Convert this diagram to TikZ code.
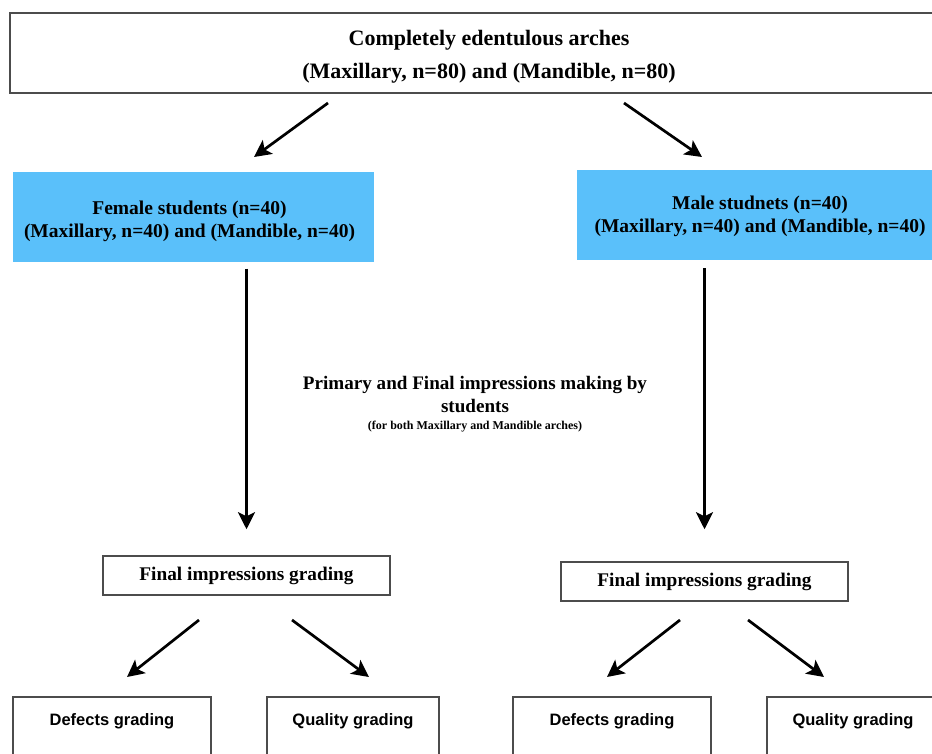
\documentclass[tikz,border=0pt]{standalone}
\usepackage{fontspec}
\setmainfont{Liberation Serif}
\setsansfont{Liberation Sans}
\usepackage{xcolor}
\usepackage{tikz}
\usetikzlibrary{shapes,arrows.meta,positioning,calc}
\definecolor{groupblue}{RGB}{90,192,250}
\tikzset{
    archbox/.style={draw=black!70, line width=1.5pt, rectangle, minimum width=958pt, minimum height=80pt},
    archtext/.style={align=center, font=\fontsize{22}{32.5}\selectfont\bfseries},
    groupbox/.style={rectangle, fill=groupblue, minimum height=90pt},
    grouptext/.style={align=center, font=\fontsize{19.5}{23}\selectfont\bfseries},
    gradebox/.style={draw=black!70, line width=1.5pt, rectangle, minimum width=287pt, minimum height=39pt, text centered, font=\fontsize{19.3}{23}\selectfont\bfseries},
    subbox/.style={draw=black!70, line width=1.5pt, rectangle, anchor=north, inner ysep=17pt, text height=12pt, text depth=60pt, text centered, font=\sffamily\fontsize{16.5}{20}\selectfont\bfseries},
    arrow/.style={-{Stealth[length=17pt,width=17pt,inset=4pt]}, line width=2.7pt},
    note/.style={align=center, font=\fontsize{19.1}{23}\selectfont\bfseries}
}

\begin{document}
\begin{tikzpicture}[x=1pt,y=-1pt]
    \useasboundingbox (0,0) rectangle (932,754);

    % top of the flow
    \node[archbox] (arches) at (489,53) {};
    \node[archtext] (archesText) at ([yshift=-3.5pt]arches.center) {Completely edentulous arches\\(Maxillary, n=80) and (Mandible, n=80)};

    \node[groupbox, minimum width=361pt] (female) at (193.5,217.5) {};
    \node[grouptext] (femaleText) at ([xshift=-4pt,yshift=-4pt]female.center) {Female students (n=40)\\(Maxillary, n=40) and (Mandible, n=40)};
    \node[groupbox, minimum width=366pt] (male) at (760,215) {};
    \node[grouptext] (maleText) at ([yshift=-1pt]male.center) {Male studnets (n=40)\\(Maxillary, n=40) and (Mandible, n=40)};

    \node[note] (making) at (475,404) {Primary and Final impressions making by\\students\\[-6pt]{\fontsize{12}{14}\selectfont (for both Maxillary and Mandible arches)}};

    \node[gradebox] (gradeF) at (246.5,575.5) {Final impressions grading};
    \node[gradebox] (gradeM) at (704.5,581.5) {Final impressions grading};

    \node[subbox, minimum width=198pt] (defectsF) at (112,696) {Defects grading};
    \node[subbox, minimum width=172pt] (qualityF) at (353,696) {Quality grading};
    \node[subbox, minimum width=198pt] (defectsM) at (612,696) {Defects grading};
    \node[subbox, minimum width=172pt] (qualityM) at (853,696) {Quality grading};

    % arrow ends
    \coordinate (s1) at (328,103);  \coordinate (t1) at (254,157);
    \coordinate (s2) at (624,103);  \coordinate (t2) at (702,157);
    \coordinate (s3) at (199,620);  \coordinate (t3) at (127,677);
    \coordinate (s4) at (292,620);  \coordinate (t4) at (369,677);
    \coordinate (s5) at (680,620);  \coordinate (t5) at (607,677);
    \coordinate (s6) at (748,620);  \coordinate (t6) at (824,677);

    \foreach \i in {1,...,6} {
        \draw[arrow] (s\i) -- (t\i);
    }

    \draw[arrow, shorten <=6pt, shorten >=26pt] (female.south -| gradeF.north) -- (gradeF.north);
    \draw[arrow, shorten <=8pt, shorten >=32pt] (male.south -| gradeM.north) -- (gradeM.north);
\end{tikzpicture}
\end{document}
